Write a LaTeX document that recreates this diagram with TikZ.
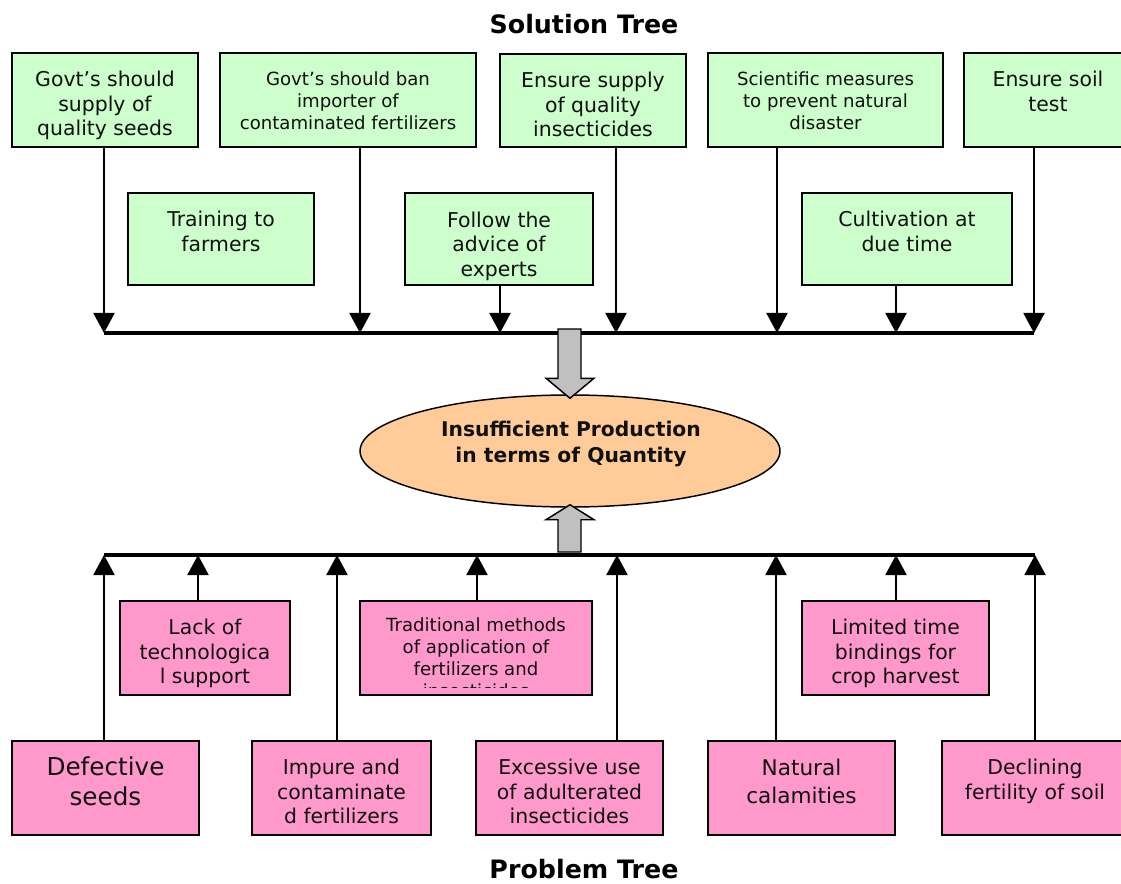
\documentclass[tikz,border=0pt]{standalone}
\usepackage{fontspec}
\setmainfont{DejaVu Sans}
\usetikzlibrary{arrows.meta,shapes.geometric,fit,calc}
\definecolor{solgreen}{HTML}{CCFFCC}
\definecolor{probpink}{HTML}{FF99CC}
\definecolor{corefill}{HTML}{FFCC99}
\definecolor{blockgray}{HTML}{C0C0C0}
\definecolor{ink}{HTML}{111111}
\tikzset{
  box/.style={draw=black, line width=1.2pt, inner sep=0pt},
  sol/.style={box, fill=solgreen},
  prob/.style={box, fill=probpink},
  txt/.style={anchor=north, align=center, inner sep=0pt, text=ink},
  bigtxt/.style={txt, font=\fontsize{15.3}{18.5}\selectfont},
  smalltxt/.style={txt, font=\fontsize{13.6}{16.5}\selectfont},
  hugetxt/.style={txt, font=\fontsize{18.5}{23}\selectfont},
  midtxt/.style={txt, font=\fontsize{16.2}{21}\selectfont},
  arr/.style={line width=1.5pt, -{Triangle[width=15.75pt,length=15pt]}},
  bus/.style={line width=2.3pt},
  blk/.style={draw=black, line width=1.1pt, fill=blockgray, line join=miter},
  ttl/.style={font=\bfseries\fontsize{19}{22}\selectfont, inner sep=0pt},
}
\begin{document}
\begin{tikzpicture}[x=0.75pt,y=-0.75pt]
\useasboundingbox (0,0) rectangle (1121,884);
\clip (0,0) rectangle (1121,884);

% titles
\node[ttl] (soltitle) at (584,24) {Solution Tree};
\node[ttl] (probtitle) at (584,869) {Problem Tree};

% ---------- solution boxes ----------
\node[sol, fit={(12,53)(198,147)}] (s1) {};
\node[bigtxt] (s1t) at ([yshift=-14pt]s1.north) {Govt's should\\supply of\\quality seeds};
\node[sol, fit={(220,53)(476,147)}] (s2) {};
\node[smalltxt] (s2t) at ([yshift=-14.5pt]s2.north) {Govt's should ban\\importer of\\contaminated fertilizers};
\node[sol, fit={(500,54)(686,147)}] (s3) {};
\node[bigtxt] (s3t) at ([yshift=-14pt]s3.north) {Ensure supply\\of quality\\insecticides};
\node[sol, fit={(708,53)(943,147)}] (s4) {};
\node[smalltxt] (s4t) at ([yshift=-14.5pt]s4.north) {Scientific measures\\to prevent natural\\disaster};
\node[sol, fit={(964,53)(1132,147)}] (s5) {};
\node[bigtxt] (s5t) at ([yshift=-14pt]s5.north) {Ensure soil\\test};
\node[sol, fit={(128,193)(314,285)}] (s6) {};
\node[bigtxt] (s6t) at ([yshift=-14pt]s6.north) {Training to\\farmers};
\node[sol, fit={(405,193)(593,285)}] (s7) {};
\begin{scope}
  % the text area stops a little above the frame
  \clip ([yshift=2.5pt]s7.south west) rectangle (s7.north east);
  \node[bigtxt] (s7t) at ([yshift=-14.5pt]s7.north) {Follow the\\advice of\\experts};
\end{scope}
\node[sol, fit={(802,193)(1012,285)}] (s8) {};
\node[bigtxt] (s8t) at ([yshift=-14pt]s8.north) {Cultivation at\\due time};

% top collector line
\coordinate (t1) at (104,333);
\coordinate (t2) at (360,333);
\coordinate (t3) at (500,333);
\coordinate (t4) at (616,333);
\coordinate (t5) at (777,333);
\coordinate (t6) at (896,333);
\coordinate (t7) at (1034,333);
\draw[bus] (t1) -- (t7);
\draw[arr] (s1.south -| t1) -- (t1);
\draw[arr] (s2.south -| t2) -- (t2);
\draw[arr] (s7.south -| t3) -- (t3);
\draw[arr] (s3.south -| t4) -- (t4);
\draw[arr] (s4.south -| t5) -- (t5);
\draw[arr] (s8.south -| t6) -- (t6);
\draw[arr] (s5.south -| t7) -- (t7);

% ---------- core problem ----------
\node[ellipse, draw=black, line width=1.1pt, fill=corefill, inner sep=0pt,
      minimum width=315pt, minimum height=84pt] (core) at (570,451) {};
\node[font=\bfseries\fontsize{15.2}{19.5}\selectfont, align=center, inner sep=0pt, text=ink]
      (coret) at (571,444) {Insufficient Production\\in terms of Quantity};

% block arrows between the collector lines and the core problem
\coordinate (topin) at (570,329);
\coordinate (botin) at (570,552);
\draw[blk] ($(topin)+(-12,0)$) -- ($(core.north)+(-12,-16)$) -- ($(core.north)+(-24,-16)$)
  -- ($(core.north)+(0,4)$) -- ($(core.north)+(24,-16)$) -- ($(core.north)+(11,-16)$)
  -- ($(topin)+(11,0)$) -- cycle;
\draw[blk] ($(botin)+(-12,0)$) -- ($(core.south)+(-12,12)$) -- ($(core.south)+(-24,12)$)
  -- ($(core.south)+(0,-3)$) -- ($(core.south)+(24,12)$) -- ($(core.south)+(11,12)$)
  -- ($(botin)+(11,0)$) -- cycle;

% ---------- problem boxes ----------
\node[prob, fit={(12,741)(199,835)}] (p1) {};
\node[hugetxt] (p1t) at ([yshift=-12pt]p1.north) {Defective\\seeds};
\node[prob, fit={(120,601)(290,695)}] (p2) {};
\node[bigtxt] (p2t) at ([yshift=-14pt]p2.north) {Lack of\\technologica\\l support};
\node[prob, fit={(252,741)(431,835)}] (p3) {};
\node[bigtxt] (p3t) at ([yshift=-14pt]p3.north) {Impure and\\contaminate\\d fertilizers};
\node[prob, fit={(360,601)(592,695)}] (p4) {};
\begin{scope}
  % the text area stops a little above the frame
  \clip ([yshift=6.2pt]p4.south west) rectangle (p4.north east);
  \node[smalltxt] (p4t) at ([yshift=-13pt]p4.north) {Traditional methods\\of application of\\fertilizers and\\insecticides};
\end{scope}
\node[prob, fit={(476,741)(663,835)}] (p5) {};
\node[bigtxt] (p5t) at ([yshift=-14pt]p5.north) {Excessive use\\of adulterated\\insecticides};
\node[prob, fit={(708,741)(895,835)}] (p6) {};
\node[midtxt] (p6t) at ([yshift=-14pt]p6.north) {Natural\\calamities};
\node[prob, fit={(802,601)(989,695)}] (p7) {};
\node[bigtxt] (p7t) at ([yshift=-14pt]p7.north) {Limited time\\bindings for\\crop harvest};
\node[prob, fit={(942,741)(1128,835)}] (p8) {};
\node[bigtxt] (p8t) at ([yshift=-14pt]p8.north) {Declining\\fertility of soil};

% bottom collector line
\coordinate (b1) at (104,555);
\coordinate (b2) at (198,555);
\coordinate (b3) at (337,555);
\coordinate (b4) at (477,555);
\coordinate (b5) at (617,555);
\coordinate (b6) at (776,555);
\coordinate (b7) at (896,555);
\coordinate (b8) at (1035,555);
\draw[bus] (b1) -- (b8);
\draw[arr] (p1.north -| b1) -- (b1);
\draw[arr] (p2.north -| b2) -- (b2);
\draw[arr] (p3.north -| b3) -- (b3);
\draw[arr] (p4.north -| b4) -- (b4);
\draw[arr] (p5.north -| b5) -- (b5);
\draw[arr] (p6.north -| b6) -- (b6);
\draw[arr] (p7.north -| b7) -- (b7);
\draw[arr] (p8.north -| b8) -- (b8);
\end{tikzpicture}
\end{document}
